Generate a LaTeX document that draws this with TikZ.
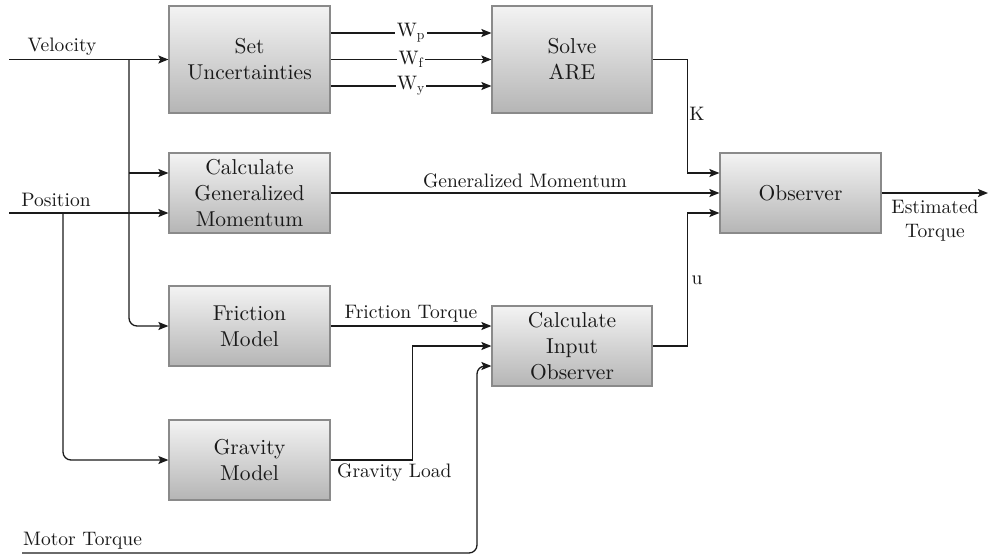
\documentclass[tikz,border=0pt]{standalone}
\usepackage{fontspec}
\setmainfont{lmroman10-regular.otf}
\usetikzlibrary{arrows.meta,calc}
\definecolor{boxtop}{HTML}{F3F3F3}
\definecolor{boxbot}{HTML}{B5B5B5}
\definecolor{boxline}{HTML}{8A8A8A}
\definecolor{ink}{HTML}{1A1A1A}
\tikzset{
  blockbox/.style={draw=boxline, line width=1.2pt, top color=boxtop, bottom color=boxbot,
    minimum width=161pt, minimum height=80pt, inner sep=0pt, align=center,
    font=\fontsize{21.5}{26}\selectfont, text=black!90},
  tallbox/.style={blockbox, minimum height=107pt},
  arr/.style={draw=ink, line width=1.3pt, -{Stealth[length=10pt,width=8pt,inset=2pt]}},
  lbl/.style={font=\fontsize{19.5}{24}\selectfont, text=black!90, inner sep=1pt, align=center},
  wlbl/.style={lbl, fill=white, inner sep=1.5pt}
}
\begin{document}
\begin{tikzpicture}[x=1pt,y=-1pt]
\useasboundingbox (0,0) rectangle (988,555);
% blocks
\node[tallbox] (su) at (249.5,59.5) {Set\\Uncertainties};
\node[tallbox, minimum width=160pt] (are) at (572,59.5) {Solve\\ARE};
\node[blockbox] (cgm) at (249.5,193) {Calculate\\Generalized\\Momentum};
\node[blockbox] (obs) at (800.5,193) {Observer};
\node[blockbox] (fm) at (249.5,326) {Friction\\Model};
\node[blockbox] (gm) at (249.5,460) {Gravity\\Model};
\node[blockbox, minimum width=160pt] (cio) at (572,346) {Calculate\\Input\\Observer};
% input coordinates
\coordinate (vin) at (9,59.5);
\coordinate (vb) at (129,59.5);
\coordinate (pin) at (9,213);
\coordinate (pb) at (63,213);
\coordinate (min) at (22,553);
\coordinate (mb) at (477,553);
\coordinate (eout) at (988,193);
% labels
\node[lbl] (lv) at (62,47) {Velocity};
\node[lbl] (lp) at (56,200) {Position};
\node[lbl, anchor=south west] (lm) at ($(min)+(0,-3)$) {Motor Torque};
% velocity
\draw[arr] (vin) -- (su.west);
\draw[arr] ($(vb)+(0,113.5)$) -- ([yshift=20pt]cgm.west);
\draw[arr, rounded corners=8pt] (vb) |- (fm.west);
% position
\draw[arr] (pin) -- ([yshift=-20pt]cgm.west);
\draw[arr, rounded corners=8pt] (pb) |- (gm.west);
% uncertainties to ARE
\draw[arr] ([yshift=26.5pt]su.east) -- node[wlbl] (wp) {W\textsubscript{p}} ([yshift=26.5pt]are.west);
\draw[arr] (su.east) -- node[wlbl] (wf) {W\textsubscript{f}} (are.west);
\draw[arr] ([yshift=-26.5pt]su.east) -- node[wlbl] (wy) {W\textsubscript{y}} ([yshift=-26.5pt]are.west);
% ARE to observer
\draw[arr] (are.east) -- ++(35,0) |- ([yshift=20pt]obs.west);
\node[lbl] (lk) at (697,114) {K};
% momentum
\draw[arr] (cgm.east) -- node[lbl, above=3pt] (lgm) {Generalized Momentum} (obs.west);
% input observer to observer
\draw[arr] (cio.east) -- ++(35,0) |- ([yshift=-20pt]obs.west);
\node[lbl] (lu) at (697,280) {u};
% output
\draw[arr] (obs.east) -- (eout);
\node[lbl] (let) at (935,221) {Estimated\\Torque};
% friction
\draw[arr] (fm.east) -- node[lbl, above=2pt] (lft) {Friction Torque} ([yshift=20pt]cio.west);
% gravity
\draw[arr] (gm.east) -- ++(82,0) |- (cio.west);
\node[lbl, anchor=west] (lgl) at (336,473) {Gravity Load};
% motor torque
\draw[arr, rounded corners=8pt] (min) -- (mb) |- ([yshift=-20pt]cio.west);
\end{tikzpicture}
\end{document}
